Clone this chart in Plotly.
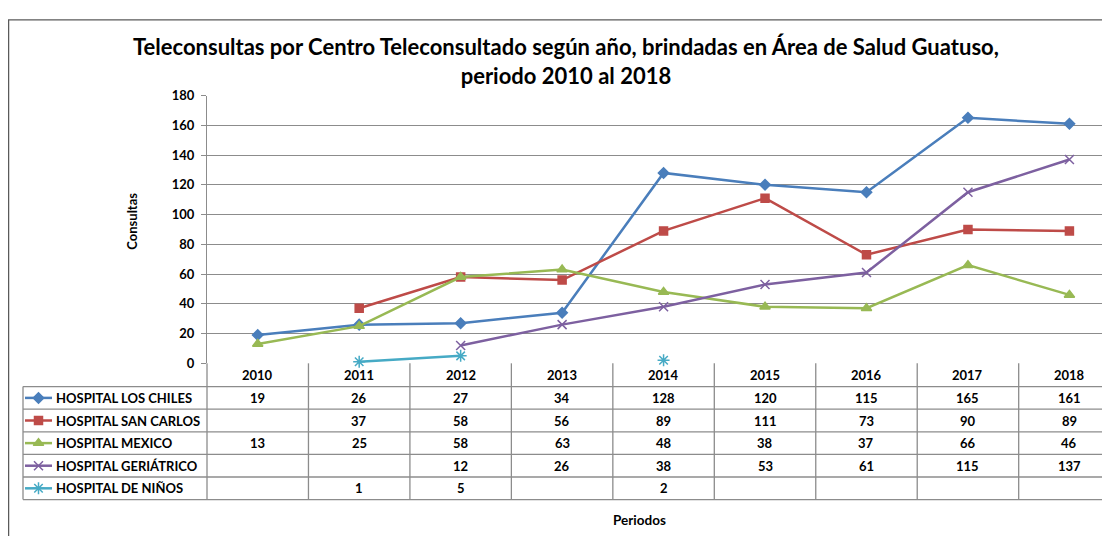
import plotly.graph_objects as go

years = ["2010", "2011", "2012", "2013", "2014", "2015", "2016", "2017", "2018"]
series_names = ["HOSPITAL LOS CHILES", "HOSPITAL SAN CARLOS", "HOSPITAL MEXICO",
                "HOSPITAL GERIÁTRICO", "HOSPITAL DE NIÑOS"]
los_chiles = [19, 26, 27, 34, 128, 120, 115, 165, 161]
san_carlos = [None, 37, 58, 56, 89, 111, 73, 90, 89]
mexico = [13, 25, 58, 63, 48, 38, 37, 66, 46]
geriatrico = [None, None, 12, 26, 38, 53, 61, 115, 137]
ninos = [None, 1, 5, None, 2, None, None, None, None]
series_values = [los_chiles, san_carlos, mexico, geriatrico, ninos]
y_ticks = [0, 20, 40, 60, 80, 100, 120, 140, 160, 180]

colors = ["#4A7EBB", "#BE4B48", "#98B954", "#7D60A0", "#46AAC5"]
symbols = ["diamond", "square", "triangle-up", "x-thin", "asterisk"]
msizes = [8, 8, 9, 9, 10]

# page body has an 8px margin; layout is expressed in window pixels, then offset
OFF = 8
SW, SH = 1110, 544
W, H = SW - OFF, SH - OFF
PL, PR, PT, PB = 207, 1110, 90, 366
XR = [-0.5, 8.40]
FONT = "Lato"


def fx(px):
    return px - OFF


def fy(py):
    return py - OFF


def cx(i):
    return PL + (i - XR[0]) / (XR[1] - XR[0]) * (PR - PL)


fig = go.Figure()

for name, vals, c, s, ms in zip(series_names, series_values, colors, symbols, msizes):
    fig.add_trace(go.Scatter(
        x=years, y=vals, name=name, mode="lines+markers",
        line=dict(color=c, width=2.5),
        marker=dict(symbol=s, size=ms, color=c, line=dict(color=c, width=1.5)),
        connectgaps=False, showlegend=False, xaxis="x", yaxis="y", cliponaxis=False,
    ))

ROW_TOP = PB
HEADER_H = 24
ROW_H = 23.3
TABLE_LEFT = 23
n_rows = len(series_names)
row_lines = [ROW_TOP + HEADER_H + k * ROW_H for k in range(n_rows + 1)]
line_col = "#8C8C8C"


def hline(x0, x1, y, color=line_col, width=1.3):
    return dict(type="line", xref="x2", yref="y2", x0=fx(x0), x1=fx(x1), y0=fy(y), y1=fy(y),
                line=dict(color=color, width=width))


def vline(x, y0, y1, color=line_col, width=1.3):
    return dict(type="line", xref="x2", yref="y2", x0=fx(x), x1=fx(x), y0=fy(y0), y1=fy(y1),
                line=dict(color=color, width=width))


shapes = []
for k in range(len(years) + 1):
    x = cx(k - 0.5)
    if x <= SW:
        shapes.append(vline(x, ROW_TOP, row_lines[-1]))
shapes.append(vline(TABLE_LEFT, row_lines[0], row_lines[-1]))
for y in row_lines:
    shapes.append(hline(TABLE_LEFT, SW, y))
# outer chart border (left and top)
shapes.append(vline(8.6, 12, SH, color="#5A5A5A"))
shapes.append(hline(8, SW, 12, color="#5A5A5A"))


def ann(x, y, text, font, xanchor="center", **kw):
    return dict(xref="x2", yref="y2", x=fx(x), y=fy(y), text=text, showarrow=False,
                font=font, xanchor=xanchor, yanchor="middle", **kw)


annotations = []
bold12 = dict(family=FONT, size=13, color="#000000", weight="bold")
for i, yr in enumerate(years):
    annotations.append(ann(cx(i), ROW_TOP + HEADER_H / 2, yr, bold12))
for r, (name, vals, c, s, ms) in enumerate(zip(series_names, series_values, colors, symbols, msizes)):
    yc = row_lines[r] + ROW_H / 2
    annotations.append(ann(54, yc, name, bold12, xanchor="left"))
    for i, v in enumerate(vals):
        if v is not None:
            annotations.append(ann(cx(i), yc, str(v), bold12))
    fig.add_trace(go.Scatter(
        x=[fx(25), fx(52)], y=[fy(yc), fy(yc)], mode="lines", line=dict(color=c, width=2.5),
        showlegend=False, hoverinfo="skip", xaxis="x2", yaxis="y2"))
    fig.add_trace(go.Scatter(
        x=[fx(38.5)], y=[fy(yc)], mode="markers",
        marker=dict(symbol=s, size=ms, color=c, line=dict(color=c, width=1.5)),
        showlegend=False, hoverinfo="skip", xaxis="x2", yaxis="y2"))

annotations.append(ann(132, 220, "Consultas",
                       dict(family=FONT, size=13, color="#000", weight="bold"), textangle=-90))
annotations.append(ann(639, 527, "Periodos",
                       dict(family=FONT, size=13.5, color="#000", weight="bold")))
annotations.append(ann(566, 54,
                       "Teleconsultas por Centro Teleconsultado según año, brindadas en Área de Salud Guatuso,<br>periodo 2010 al 2018",
                       dict(family=FONT, size=22, color="#000", weight="bold"), align="center"))

fig.update_layout(
    width=W, height=H,
    margin=dict(l=0, r=0, t=0, b=0),
    paper_bgcolor="white", plot_bgcolor="rgba(0,0,0,0)",
    shapes=shapes, annotations=annotations,
    xaxis=dict(domain=[fx(PL) / W, fx(PR) / W], range=XR, type="category",
               showticklabels=False, showgrid=False, zeroline=False,
               showline=False, ticks="", anchor="y"),
    yaxis=dict(domain=[1 - fy(PB) / H, 1 - fy(PT) / H], range=[0, 180], tickvals=y_ticks,
               showgrid=True, gridcolor="#8C8C8C", gridwidth=1,
               showline=True, linecolor="#8C8C8C", linewidth=1,
               ticks="outside", ticklen=5, tickcolor="#8C8C8C", ticklabelstandoff=4,
               tickfont=dict(family=FONT, size=13, color="#000", weight="bold"),
               zeroline=False, anchor="x"),
    xaxis2=dict(domain=[0, 1], range=[0, W], visible=False, anchor="y2"),
    yaxis2=dict(domain=[0, 1], range=[H, 0], visible=False, anchor="x2"),
)

fig.write_html("out.html")
